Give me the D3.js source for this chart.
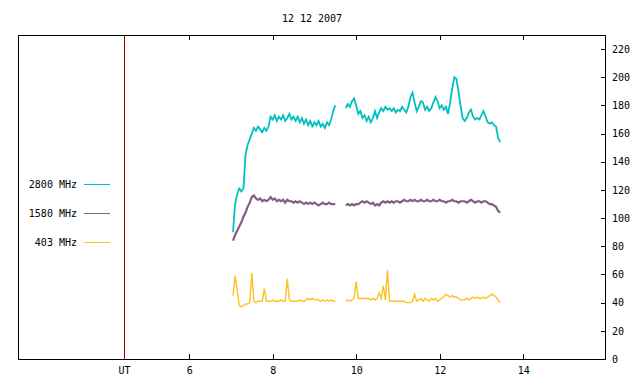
<!DOCTYPE html>
<html>
<head>
<meta charset="utf-8">
<script src="https://cdn.jsdelivr.net/npm/d3@7/dist/d3.min.js"></script>
<style>
  html, body { margin: 0; padding: 0; background: #fff; }
  svg { display: block; }
  text { font-family: "DejaVu Sans Mono", monospace; font-size: 10px; fill: #000; }
</style>
</head>
<body>
<svg id="chart" width="640" height="384"></svg>
<script>
// ---- data ----
const title = "12 12 2007";
const xTicks = [6, 8, 10, 12, 14];
const yTicks = [0, 20, 40, 60, 80, 100, 120, 140, 160, 180, 200, 220];
const utHour = 4.45;
const seriesNames = ["2800 MHz", "1580 MHz", "403 MHz"];
const seriesColors = ["#00c0c0", "#806080", "#ffc020"];
// sampling grid: hours from 7.05 to 13.45 every 0.05 h; null = no data
const tStart = 7.05, tStep = 0.05;

const f2800 = [
  90,110,117,121,119,121,145,152,156,160,164,162,165,163,161,164,162,165,172,170,
  173,169,172,170,173,169,171,174,170,172,169,172,168,171,167,170,166,169,165,168,
  166,169,165,167,164,168,166,170,176,180,
  null,null,null,null,
  178,181,179,183,185,180,174,176,171,173,169,172,168,171,176,171,175,178,176,179,
  177,178,176,178,175,177,176,179,177,175,179,186,189,182,176,179,183,182,177,179,
  176,178,182,186,183,178,180,177,179,174,182,192,200,199,190,180,171,169,171,175,
  177,172,170,171,170,173,176,172,168,167,168,166,165,157,154
];
const f1580 = [
  84,88,91,94,97,101,104,108,111,115,116,114,113,114,112,113,112,113,115,113,
  114,112,113,112,113,111,113,112,112,111,112,111,112,111,110,111,110,111,110,111,
  110,109,110,111,110,110,111,110,110,110,
  null,null,null,null,
  109,110,109,110,109,110,110,111,112,111,112,111,110,111,109,110,109,
  111,112,111,112,111,112,111,112,112,111,
  112,113,112,112,113,112,113,112,112,113,
  112,112,113,112,112,113,112,112,113,112,
  112,111,112,112,113,112,112,111,112,112,
  112,111,112,113,112,111,112,112,111,112,
  112,111,110,110,109,108,105,104
];
const f403 = [
  45,59,49,38,37,38,39,39,40,61,41,40,41,41,41,50,41,41,41,42,
  41,41,41,42,41,41,57,42,41,41,41,41,42,41,41,42,43,42,43,42,
  42,42,41,42,41,42,41,42,41,41,
  null,null,null,null,
  41,42,41,42,43,55,43,43,43,43,43,43,42,43,42,43,47,43,52,42,
  63,41,41,41,41,41,41,41,41,40,40,40,41,46,41,42,43,41,43,42,
  41,43,42,43,41,42,43,44,46,45,44,45,44,44,43,42,42,42,43,42,
  43,44,43,44,43,43,44,43,44,45,46,45,44,42,40
];
const seriesValues = [f2800, f1580, f403];
const seriesWidths = [1.8, 2.2, 1.4];

// ---- layout ----
const svg = d3.select("#chart");
const frame = { left: 18, right: 605, top: 35, bottom: 359 };

const x = d3.scaleLinear().domain([1.9, 15.96]).range([frame.left, frame.right]);
const y = d3.scaleLinear().domain([0, 230]).range([frame.bottom, frame.top]);

// title
svg.append("text")
  .attr("x", 312).attr("y", 22)
  .attr("text-anchor", "middle")
  .text(title);

// UT line
svg.append("line")
  .attr("x1", x(utHour)).attr("x2", x(utHour))
  .attr("y1", frame.top).attr("y2", frame.bottom)
  .attr("stroke", "#a00000").attr("stroke-width", 1)
  .attr("shape-rendering", "crispEdges");

// bottom axis (ticks pointing inward)
const gx = svg.append("g")
  .attr("transform", `translate(0,${frame.bottom})`)
  .call(d3.axisBottom(x).tickValues(xTicks).tickSize(-5).tickPadding(8).tickFormat(d3.format("d")));
gx.select(".domain").remove();
gx.selectAll(".tick line").attr("shape-rendering", "crispEdges");
gx.selectAll("text").style("font-family", "DejaVu Sans Mono").style("font-size", "10px");

// UT label
svg.append("text")
  .attr("x", x(utHour)).attr("y", frame.bottom + 8).attr("dy", "0.71em")
  .attr("text-anchor", "middle")
  .text("UT");

// top axis mirror ticks
const gxt = svg.append("g")
  .attr("transform", `translate(0,${frame.top})`)
  .call(d3.axisTop(x).tickValues(xTicks).tickSize(-5).tickFormat(""));
gxt.select(".domain").remove();
gxt.selectAll(".tick line").attr("shape-rendering", "crispEdges");

// right axis
const gy = svg.append("g")
  .attr("transform", `translate(${frame.right},0)`)
  .call(d3.axisRight(y).tickValues(yTicks).tickSize(-4).tickPadding(7).tickFormat(d3.format("d")));
gy.select(".domain").remove();
gy.selectAll(".tick line").attr("shape-rendering", "crispEdges");
gy.selectAll("text").style("font-family", "DejaVu Sans Mono").style("font-size", "10px");

// frame
svg.append("rect")
  .attr("x", frame.left).attr("y", frame.top)
  .attr("width", frame.right - frame.left).attr("height", frame.bottom - frame.top)
  .attr("fill", "none").attr("stroke", "#000").attr("stroke-width", 1)
  .attr("shape-rendering", "crispEdges");

// series lines
const line = d3.line()
  .defined(d => d.v !== null)
  .x(d => x(d.t))
  .y(d => y(d.v));

seriesValues.forEach((vals, k) => {
  const pts = vals.map((v, i) => ({ t: tStart + i * tStep, v: v }));
  svg.append("path")
    .datum(pts)
    .attr("fill", "none")
    .attr("stroke", seriesColors[k])
    .attr("stroke-width", seriesWidths[k])
    .attr("stroke-linejoin", "miter")
    .attr("d", line);
});

// legend
const legendY = [184, 213, 242];
seriesNames.forEach((name, k) => {
  svg.append("text")
    .attr("x", 77).attr("y", legendY[k]).attr("dy", "0.35em")
    .attr("text-anchor", "end")
    .text(name);
  svg.append("line")
    .attr("x1", 84).attr("x2", 110)
    .attr("y1", legendY[k] + 0.5).attr("y2", legendY[k] + 0.5)
    .attr("stroke", seriesColors[k]).attr("stroke-width", 1);
});
</script>
</body>
</html>
